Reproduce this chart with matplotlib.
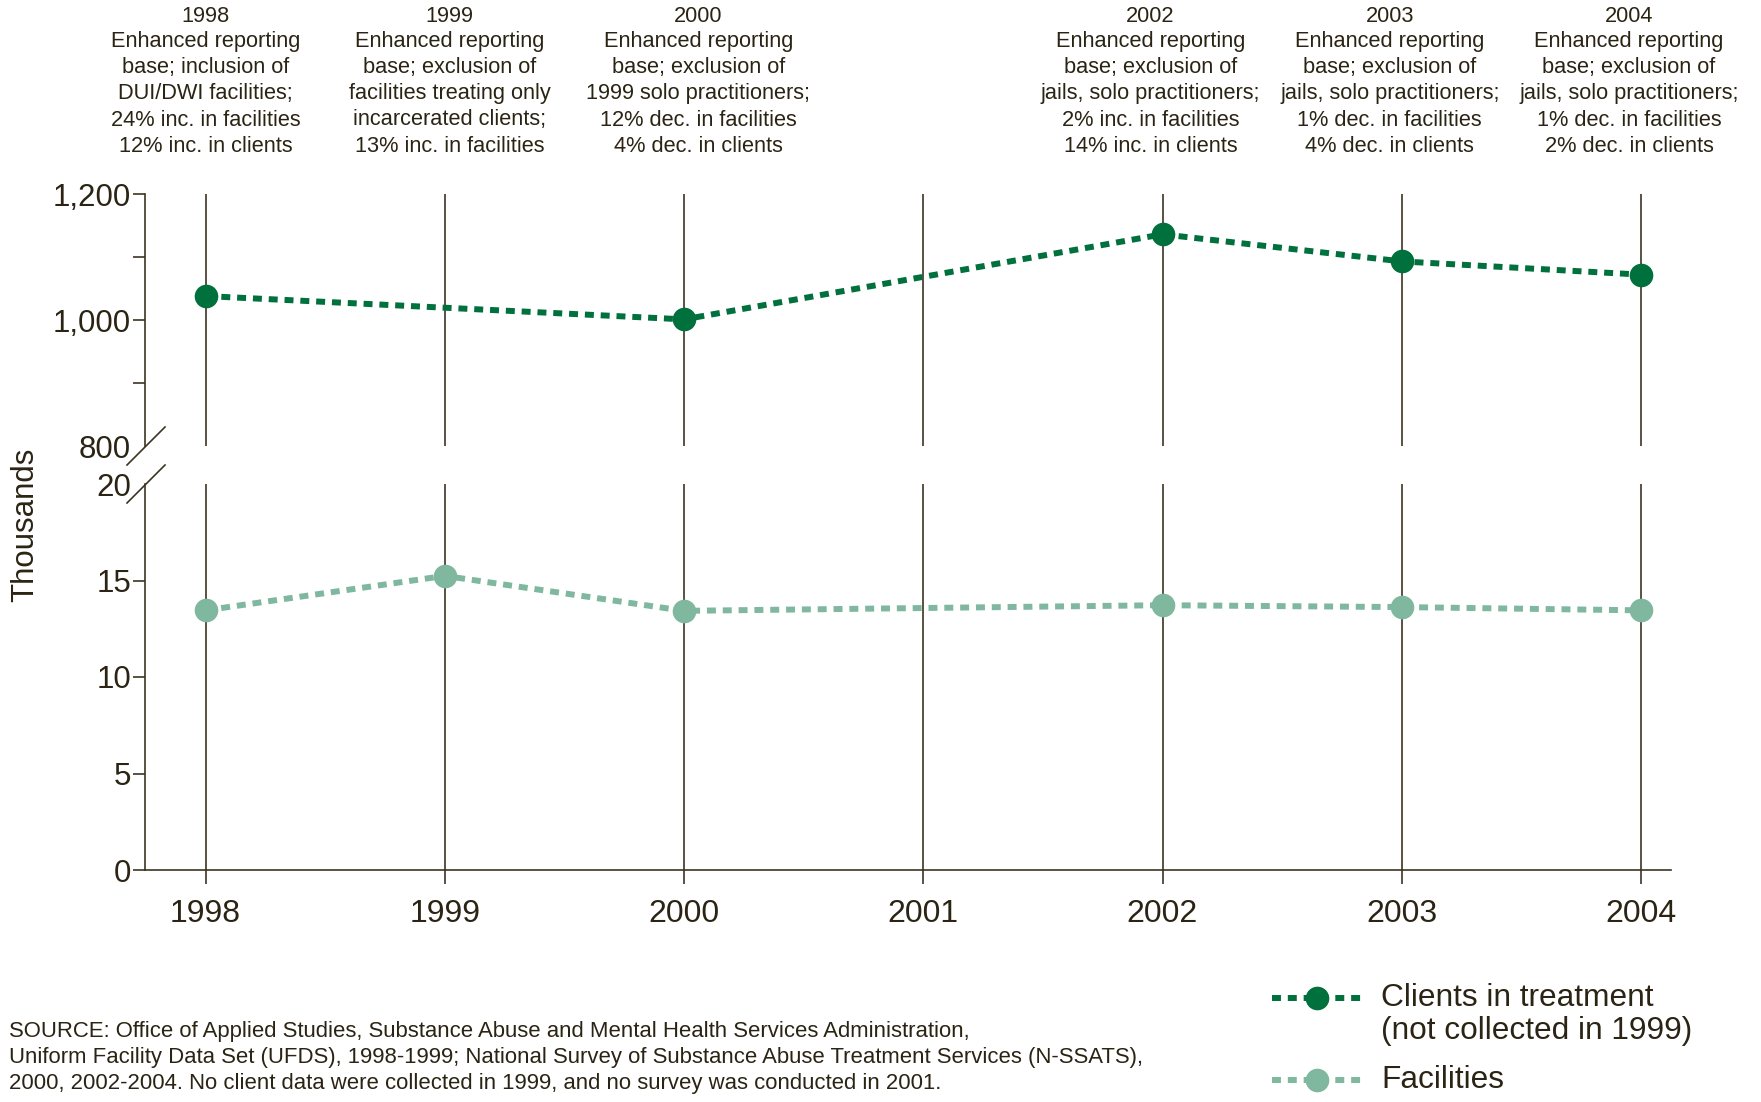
import matplotlib
matplotlib.use("Agg")
import matplotlib.pyplot as plt
from matplotlib.lines import Line2D

plt.rcParams['font.family'] = ['Liberation Sans', 'DejaVu Sans']

years = [1998, 1999, 2000, 2001, 2002, 2003, 2004]
client_years = [1998, 2000, 2002, 2003, 2004]
clients = [1038, 1001, 1136, 1093, 1072]          # thousands
facility_years = [1998, 1999, 2000, 2002, 2003, 2004]
facilities = [13.455, 15.239, 13.428, 13.720, 13.623, 13.454]  # thousands

top_ticks = [800, 900, 1000, 1100, 1200]
top_labels = ['800', '', '1,000', '', '1,200']
bot_ticks = [0, 5, 10, 15, 20]
bot_labels = ['0', '5', '10', '15', '20']

note_years = [1998, 1999, 2000, 2002, 2003, 2004]
notes = [
    ["1998", "Enhanced reporting", "base; inclusion of", "DUI/DWI facilities;",
     "24% inc. in facilities", "12% inc. in clients"],
    ["1999", "Enhanced reporting", "base; exclusion of", "facilities treating only",
     "incarcerated clients;", "13% inc. in facilities"],
    ["2000", "Enhanced reporting", "base; exclusion of", "1999 solo practitioners;",
     "12% dec. in facilities", "4% dec. in clients"],
    ["2002", "Enhanced reporting", "base; exclusion of", "jails, solo practitioners;",
     "2% inc. in facilities", "14% inc. in clients"],
    ["2003", "Enhanced reporting", "base; exclusion of", "jails, solo practitioners;",
     "1% dec. in facilities", "4% dec. in clients"],
    ["2004", "Enhanced reporting", "base; exclusion of", "jails, solo practitioners;",
     "1% dec. in facilities", "2% dec. in clients"],
]
note_offsets = [0.0, 0.02, 0.06, -0.05, -0.05, -0.05]

source_lines = [
    "SOURCE: Office of Applied Studies, Substance Abuse and Mental Health Services Administration,",
    "Uniform Facility Data Set (UFDS), 1998-1999; National Survey of Substance Abuse Treatment Services (N-SSATS),",
    "2000, 2002-2004. No client data were collected in 1999, and no survey was conducted in 2001.",
]

DARK = '#00703c'
LIGHT = '#80b89f'
TXT = '#2b2414'
AX = '#3d3322'

W, H = 1761, 1102
fig = plt.figure(figsize=(W / 100, H / 100), dpi=100)

def fx(px):
    return px / W

def fy(py):
    return 1 - py / H

xl, xr = 145, 1671
ax_top = fig.add_axes([fx(xl), fy(446), fx(xr - xl), fy(194) - fy(446)])
ax_bot = fig.add_axes([fx(xl), fy(870), fx(xr - xl), fy(484) - fy(870)])

xmin = 1998 - (205.5 - 145) / 239.25
xmax = 2004 + (1671 - 1641) / 239.25

for ax in (ax_top, ax_bot):
    ax.set_xlim(xmin, xmax)
    ax.set_facecolor('none')
    for s in ('top', 'right'):
        ax.spines[s].set_visible(False)
    ax.spines['left'].set_color(AX)
    ax.spines['left'].set_linewidth(1.2)
    ax.tick_params(axis='y', direction='out', length=9, width=1.2, color=AX,
                   labelsize=22.5, labelcolor=TXT, pad=1)
    for y in years:
        ax.axvline(y, color=AX, lw=1.2, zorder=1)

ax_top.set_ylim(800, 1200)
ax_top.spines['bottom'].set_visible(False)
ax_top.set_xticks([])
ax_top.set_yticks(top_ticks)
ax_top.set_yticklabels(top_labels)
ax_top.yaxis.get_major_ticks()[0].tick1line.set_visible(False)

ax_bot.set_ylim(0, 20)
ax_bot.spines['bottom'].set_color(AX)
ax_bot.spines['bottom'].set_linewidth(1.2)
ax_bot.set_yticks(bot_ticks)
ax_bot.set_yticklabels(bot_labels)
ax_bot.yaxis.get_major_ticks()[-1].tick1line.set_visible(False)
ax_bot.set_xticks(years)
ax_bot.set_xticklabels([str(y) for y in years])
ax_bot.tick_params(axis='x', direction='out', length=10, width=1.2, color=AX,
                   labelsize=23, labelcolor=TXT, pad=11)

ls = (0, (1.5, 1.15))
ax_top.plot(client_years, clients, color=DARK, lw=4.3, linestyle=ls,
            marker='o', markersize=17, markeredgewidth=0, zorder=3, clip_on=False)
ax_bot.plot(facility_years, facilities, color=LIGHT, lw=4.3, linestyle=ls,
            marker='o', markersize=17, markeredgewidth=0, zorder=3, clip_on=False)

# axis-break slashes
for cy in (446, 484):
    fig.add_artist(Line2D([fx(127), fx(165)], [fy(cy + 19), fy(cy - 19)],
                          color=AX, lw=1.2, transform=fig.transFigure))

fig.text(fx(25), fy(525), "Thousands", rotation=90, ha='center', va='center',
         fontsize=22.5, color=TXT)

# annotations above
for yr, off, lines in zip(note_years, note_offsets, notes):
    xd = ax_top.transData.transform((yr + off, 1000))[0]
    xf = fig.transFigure.inverted().transform((xd, 0))[0]
    for i, line in enumerate(lines):
        fig.text(xf, fy(16 + 26 * i), line, ha='center', va='center',
                 fontsize=15.7, color=TXT)

# source
for i, line in enumerate(source_lines):
    fig.text(fx(9), fy(1031 + 26.5 * i), line, ha='left', va='center',
             fontsize=15.9, color=TXT)

# legend
def legend_entry(yc, color, label_lines):
    fig.add_artist(Line2D([fx(1272), fx(1317), fx(1362)], [fy(yc)] * 3, color=color,
                          lw=4.3, linestyle=ls, marker='o', markersize=17,
                          markeredgewidth=0, markevery=[1],
                          transform=fig.transFigure))
    for i, t in enumerate(label_lines):
        fig.text(fx(1381), fy(yc + 33 * i), t, ha='left', va='center',
                 fontsize=22.8, color=TXT)

legend_entry(998, DARK, ["Clients in treatment", "(not collected in 1999)"])
legend_entry(1080, LIGHT, ["Facilities"])

fig.savefig("out.png", dpi=100)
